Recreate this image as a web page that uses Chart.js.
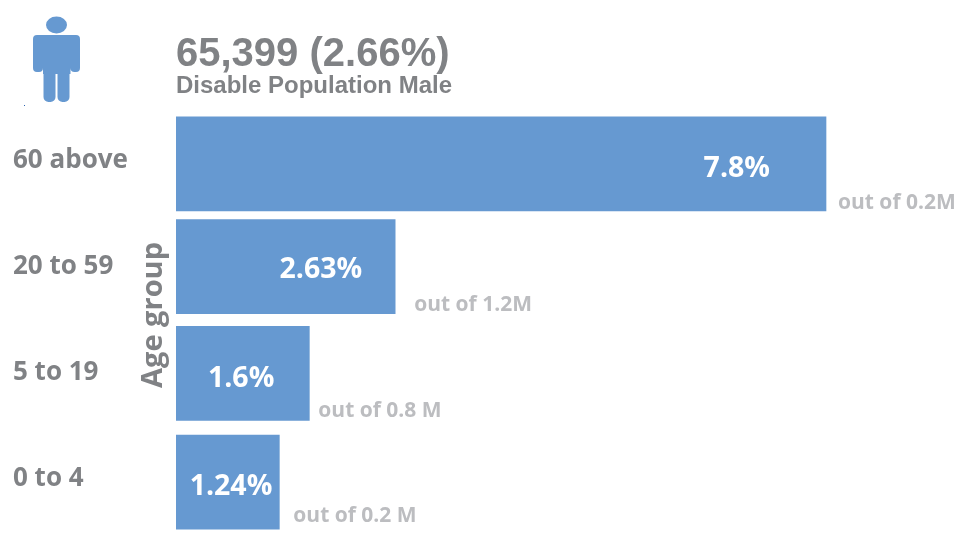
<!DOCTYPE html>
<html><head><meta charset="utf-8">
<script src="https://cdn.jsdelivr.net/npm/chart.js@4"></script>
<style>html,body{margin:0;padding:0;background:#fff;overflow:hidden}#w{width:966px;height:534px}</style>
</head><body><div id="w"><canvas id="c" width="966" height="534"></canvas></div>
<script>
const categories = ['60 above','20 to 59','5 to 19','0 to 4'];
const percentValues = [7.8,2.63,1.6,1.24];
const percentLabels = ['7.8%','2.63%','1.6%','1.24%'];
const outOfLabels = ['out of 0.2M','out of 1.2M','out of 0.8 M','out of 0.2 M'];
const headline = '65,399 (2.66%)';
const subline = 'Disable Population Male';
const axisName = 'Age group';

const BLUE='#6699D1', GREY='#808285', LIGHT='#BCBDC0', FACE='"Open Sans"';
// layout tweaks, separate from the data
const rowShift=[0,-3,-2,1];
const pctGap=[56,33,35,7], pctDy=[5,3,5,5];
const noteGap=[12,19,9,14], noteDy=[-8,-9,-9,-13];

const rowAdjust={id:'rowAdjust',afterDatasetsUpdate(ch){
  ch.getDatasetMeta(0).data.forEach((b,i)=>{b.y+=rowShift[i];});
}};
const annotate={id:'annotate',afterDatasetsDraw(ch){
  const c=ch.ctx; c.save();
  ch.getDatasetMeta(0).data.forEach((b,i)=>{
    c.textBaseline='middle';
    c.font='bold 28.5px '+FACE; c.fillStyle='#fff'; c.textAlign='right';
    c.fillText(percentLabels[i],b.x-pctGap[i],b.y+pctDy[i]);
    c.font='bold 21px '+FACE; c.fillStyle=LIGHT; c.textAlign='left';
    c.fillText(outOfLabels[i],b.x+noteGap[i],b.y+47+noteDy[i]);
  });
  c.restore();
}};
const person={id:'person',beforeDraw(ch){
  const c=ch.ctx; c.save(); c.fillStyle=BLUE;
  c.beginPath(); c.ellipse(56.5,25,10.5,8.5,0,0,Math.PI*2); c.fill();
  c.beginPath();
  c.roundRect(33,35,47,12,4);
  c.roundRect(33,36,10,36,4);
  c.roundRect(70.5,36,9.5,36,4);
  c.rect(43,36,27.5,38);
  c.roundRect(43.5,60,12,42,5);
  c.roundRect(57.5,60,12,42,5);
  c.fill('nonzero');
  c.fillStyle='#2a62b0'; c.fillRect(24,105,1,1);
  c.restore();
}};
new Chart(document.getElementById('c'),{
  type:'bar',
  data:{labels:categories,datasets:[{data:percentValues,backgroundColor:BLUE,borderWidth:0,barThickness:94}]},
  plugins:[rowAdjust,annotate,person],
  options:{
    indexAxis:'y',responsive:false,animation:false,
    layout:{padding:{left:13,right:0,top:0,bottom:0}},
    plugins:{
      legend:{display:false},tooltip:{enabled:false},
      title:{display:true,text:headline,align:'start',fullSize:false,color:GREY,
        font:{family:'"Liberation Sans"',size:40,weight:'bold',lineHeight:0.85},padding:{top:38,bottom:0}},
      subtitle:{display:true,text:subline,align:'start',fullSize:false,color:GREY,
        font:{family:'"Liberation Sans"',size:24,weight:'bold',lineHeight:1},padding:{top:2,bottom:13}}
    },
    scales:{
      x:{type:'linear',min:0,max:9.48,display:false,grid:{display:false}},
      y:{type:'category',position:'left',weight:2,grid:{display:false},border:{display:false},
        afterFit(s){s.width=125;s.paddingTop=0;s.paddingBottom=0;},
        ticks:{crossAlign:'far',color:GREY,labelOffset:-3,padding:0,autoSkip:false,
          font:{family:FACE,size:26,weight:'bold'}}},
      yName:{type:'category',position:'left',weight:1,grid:{display:false},border:{display:false},
        afterFit(s){s.width=38;s.paddingTop=0;s.paddingBottom=0;},
        ticks:{display:false},
        title:{display:true,text:'\u00a0\u00a0'+axisName,color:GREY,padding:0,
          font:{family:FACE,size:29,weight:'bold',lineHeight:1.1}}}
    }
  }
});
</script></body></html>
